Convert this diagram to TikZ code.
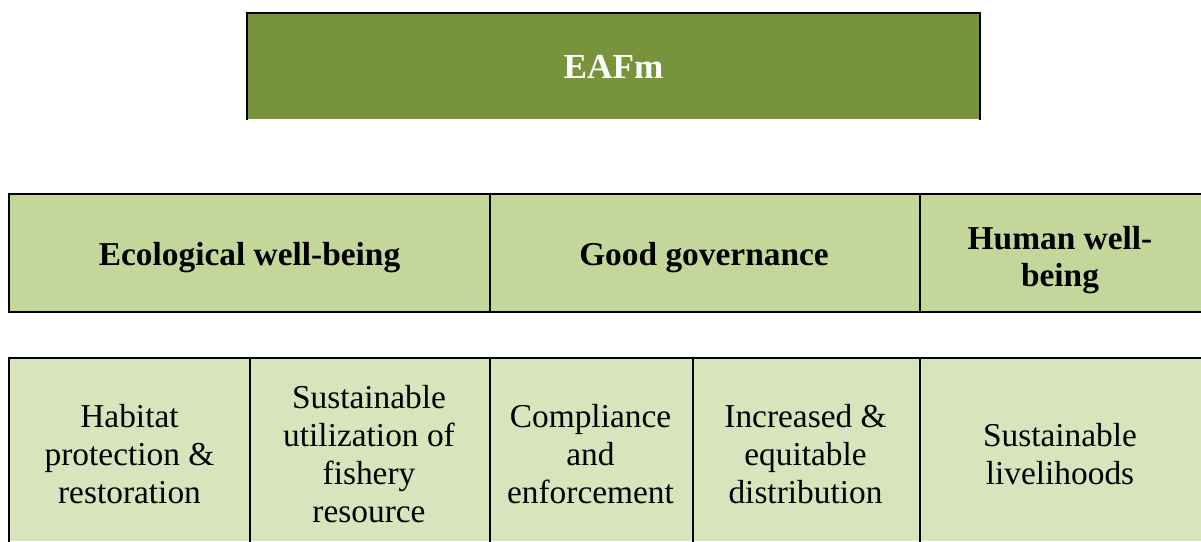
\documentclass[tikz,border=0pt]{standalone}
\usepackage{fontspec}
\setmainfont{Liberation Serif}
\definecolor{eafgreen}{HTML}{77933C}
\definecolor{pillar}{HTML}{C4D79B}
\definecolor{subpillar}{HTML}{D7E4BC}
\tikzset{
	cell/.style={inner sep=0pt, align=center},
	topbox/.style={cell, fill=eafgreen, text=white, minimum width=14.62cm, minimum height=2.1cm, font=\fontsize{20}{24}\bfseries\selectfont},
	pillarbox/.style={cell, fill=pillar, minimum height=2.32cm},
	pillartext/.style={cell, yshift=-0.1cm, font=\fontsize{19}{21}\bfseries\selectfont},
	subbox/.style={cell, fill=subpillar, minimum height=3.64cm},
	subtext/.style={cell, yshift=-0.08cm, font=\fontsize{19}{21.6}\selectfont}
}
\begin{document}
\begin{tikzpicture}[line width=1.1pt]
		\useasboundingbox (0,0) rectangle (24.02,-10.82);
		\node[topbox] (eafm) at (12.27,-1.33) {EAFm};

		\node[pillarbox, minimum width=9.58cm, label={[pillartext]center:Ecological well-being}] (eco) at (4.99,-5.06) {};
		\node[pillarbox, minimum width=8.6cm, label={[pillartext]center:Good governance}] (gov) at (14.08,-5.06) {};
		\node[pillarbox, minimum width=5.64cm, label={[pillartext, yshift=-0.04cm]center:{Human well-\\being}}] (hum) at (21.2,-5.06) {};

		\node[subbox, minimum width=4.78cm, label={[subtext]center:{Habitat\\protection \&\\restoration}}] (habitat) at (2.59,-9) {};
		\node[subbox, minimum width=4.8cm, label={[subtext]center:{Sustainable\\utilization of\\fishery\\resource}}] (fishery) at (7.38,-9) {};
		\node[subbox, minimum width=4.06cm, label={[subtext]center:{Compliance\\and\\enforcement}}] (compliance) at (11.81,-9) {};
		\node[subbox, minimum width=4.54cm, label={[subtext]center:{Increased \&\\equitable\\distribution}}] (equity) at (16.11,-9) {};
		\node[subbox, minimum width=5.64cm, label={[subtext]center:{Sustainable\\livelihoods}}] (livelihood) at (21.2,-9) {};

		\draw (eafm.south west) |- (eafm.north east) -- (eafm.south east);
		\draw (hum.north east) -| (eco.south west) -- (hum.south east);
		\foreach \c in {eco,gov}{
		\draw (\c.north east) -- (\c.south east);
		};
		\draw (livelihood.north east) -| (habitat.south west);
		\foreach \c in {habitat,fishery,compliance,equity}{
		\draw (\c.north east) -- (\c.south east);
		};
	\end{tikzpicture}
\end{document}
